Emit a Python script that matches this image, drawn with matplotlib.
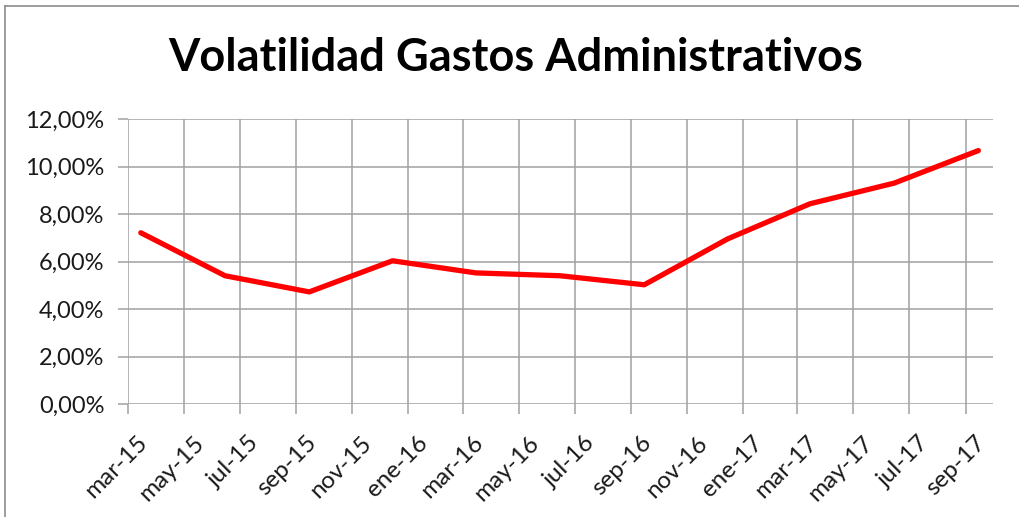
import numpy as np
import matplotlib
matplotlib.use('Agg')
import matplotlib.pyplot as plt
import matplotlib.transforms as mtransforms
from matplotlib.lines import Line2D
from datetime import date

# Quarterly volatility readings (mid-month)
fechas = [date(2015, 3, 15), date(2015, 6, 15), date(2015, 9, 15), date(2015, 12, 15),
          date(2016, 3, 15), date(2016, 6, 15), date(2016, 9, 15), date(2016, 12, 15),
          date(2017, 3, 15), date(2017, 6, 15), date(2017, 9, 15)]
volatilidad = [0.0721, 0.0540, 0.0472, 0.0603, 0.0552, 0.0540, 0.0502,
               0.0695, 0.0843, 0.0930, 0.1067]

meses = ['ene', 'feb', 'mar', 'abr', 'may', 'jun', 'jul', 'ago', 'sep', 'oct', 'nov', 'dic']
y_ticks = [0.0, 0.02, 0.04, 0.06, 0.08, 0.10, 0.12]

plt.rcParams['font.family'] = ['Lato', 'DejaVu Sans']

fig = plt.figure(figsize=(10.2, 5.17), dpi=100)
ax = fig.add_axes([128 / 1020, 1 - 404 / 517, 865 / 1020, 285 / 517])

ax.plot(fechas, volatilidad, color='#ff0000', lw=3.8, solid_capstyle='round',
        solid_joinstyle='round', zorder=3)

# two-month tick spacing, like the original
tick_dates = [date(2015 + (m - 1) // 12, (m - 1) % 12 + 1, 1) for m in range(3, 3 + 31, 2)]
ax.set_xticks(tick_dates)
ax.set_xticklabels(['%s-%02d' % (meses[d.month - 1], d.year % 100) for d in tick_dates],
                   rotation=45, ha='right', va='top', rotation_mode='anchor', fontsize=17.5)
ax.set_xlim(date(2015, 3, 1), date(2017, 10, 1))

ax.set_ylim(0, 0.12)
ax.set_yticks(y_ticks)
ax.set_yticklabels([('%.2f%%' % (v * 100)).replace('.', ',') for v in y_ticks], fontsize=17)

grid_c = '#a0a0a0'
ax.grid(True, color=grid_c, lw=1.1)
ax.set_axisbelow(True)
for s in ax.spines.values():
    s.set_visible(False)
ax.tick_params(axis='both', color=grid_c, width=1.1, length=7, labelcolor='#1a1a1a')
ax.tick_params(axis='x', pad=6)
ax.tick_params(axis='y', pad=10)

# Excel places the rotated labels a bit right of / below the tick
shift = mtransforms.ScaledTranslation(0.09, -0.10, fig.dpi_scale_trans)
for lab in ax.get_xticklabels():
    lab.set_transform(lab.get_transform() + shift)

fig.text(0.506, 1 - 58 / 517, 'Volatilidad Gastos Administrativos', ha='center', va='center',
         fontsize=32.5, fontweight='bold', color='black')

# chart frame (top and left edges visible in the original)
fig.add_artist(Line2D([5 / 1020, 5 / 1020], [0, 1 - 6 / 517], color='#8c8c8c', lw=1.2))
fig.add_artist(Line2D([5 / 1020, 1], [1 - 6 / 517, 1 - 6 / 517], color='#8c8c8c', lw=1.2))

fig.savefig('out.png', dpi=100)
